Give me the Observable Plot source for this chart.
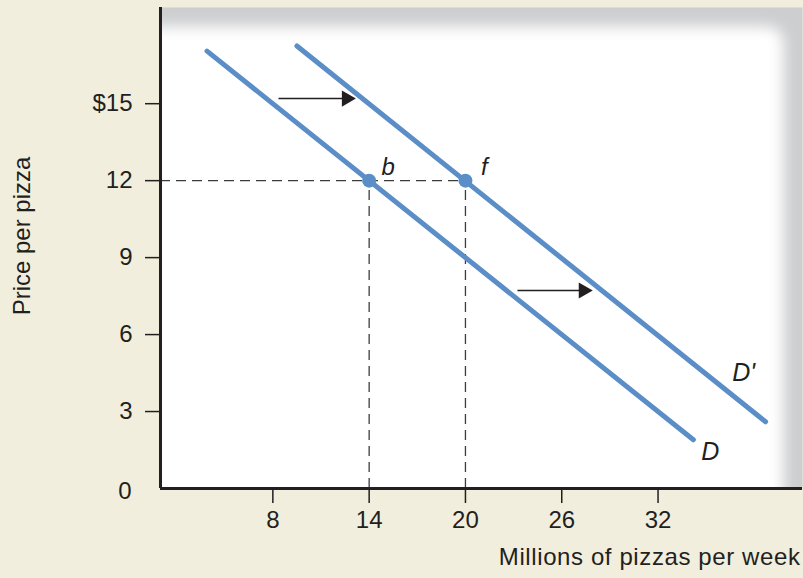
<!DOCTYPE html>
<html>
<head>
<meta charset="utf-8">
<script src="https://cdn.jsdelivr.net/npm/d3@7"></script>
<script src="https://cdn.jsdelivr.net/npm/@observablehq/plot@0.6"></script>
<style>
  html, body { margin: 0; padding: 0; background: #f1eedd; }
  #chart { width: 803px; height: 578px; }
</style>
</head>
<body>
<div id="chart"></div>
<script>
// ---- data ----
const xDomain = [1, 41];
const yDomain = [0, 18.75];
const xTicks = [8, 14, 20, 26, 32];
const yTicks = [3, 6, 9, 12, 15];
const yTickLabels = ["3", "6", "9", "12", "$15"];

// Demand curve D and shifted demand curve D'
const curveD = [{q: 3.9, p: 17.05}, {q: 34.2, p: 1.9}];
const curveD2 = [{q: 9.5, p: 17.25}, {q: 38.7, p: 2.6}];

// Points b and f
const points = [{name: "b", q: 14, p: 12}, {name: "f", q: 20, p: 12}];

// Shift arrows
const arrows = [
  {q1: 8.35, q2: 12.84, p: 15.2},
  {q1: 23.24, q2: 27.6, p: 7.72}
];

const xTitle = "Millions of pizzas per week";
const yTitle = "Price per pizza";

const blue = "#5b8ec6";
const ink = "#231f20";
const dashInk = "#3c3c3c";
const font = "'Liberation Sans', Arial, Helvetica, sans-serif";

const chart = Plot.plot({
  width: 803,
  height: 578,
  marginLeft: 160,
  marginRight: 1,
  marginTop: 7,
  marginBottom: 90,
  x: {domain: xDomain},
  y: {domain: yDomain},
  style: {background: "#f1eedd", fontFamily: font, fontSize: "24px", color: ink, overflow: "visible"},
  marks: [
    Plot.frame({fill: "#cdced0", stroke: null}),
    Plot.frame({fill: "white", stroke: null, insetTop: 19, insetRight: 19, insetLeft: -30, insetBottom: -30, rx: 16}),
    // dashed guides
    Plot.ruleY(points.filter(d => d.name === "f"), {y: "p", x1: xDomain[0], x2: "q", stroke: dashInk, strokeWidth: 1.3, strokeDasharray: "10,6"}),
    Plot.ruleX(points, {x: "q", y1: 0, y2: "p", stroke: dashInk, strokeWidth: 1.3, strokeDasharray: "10,6"}),
    // demand curves
    Plot.line(curveD, {x: "q", y: "p", stroke: blue, strokeWidth: 5}),
    Plot.line(curveD2, {x: "q", y: "p", stroke: blue, strokeWidth: 5}),
    // points
    Plot.dot(points, {x: "q", y: "p", r: 7, fill: blue}),
    Plot.text(points, {x: "q", y: "p", text: "name", dx: 19, dy: -13, fontStyle: "italic", fontSize: 24, fill: ink}),
    // curve labels
    Plot.text([curveD[1]], {x: "q", y: "p", text: () => "D", dx: 17, dy: 12, fontStyle: "italic", fontSize: 25, fill: ink}),
    Plot.text([curveD2[1]], {x: "q", y: "p", text: () => "D'", dx: -22, dy: -49, fontStyle: "italic", fontSize: 25, fill: ink}),
    // shift arrows
    Plot.link(arrows, {x1: "q1", x2: "q2", y1: "p", y2: "p", stroke: ink, strokeWidth: 1.5}),
    Plot.dot(arrows, {x: "q2", y: "p", symbol: "triangle", rotate: 90, r: 6, fill: ink, dx: -4}),
    // axes
    Plot.ruleX([xDomain[0]], {stroke: ink, strokeWidth: 3}),
    Plot.ruleY([0], {stroke: ink, strokeWidth: 3}),
    Plot.axisX(xTicks, {tickSize: 15, tickPadding: 7, strokeWidth: 1.5, fontSize: 24, label: null}),
    Plot.axisY(yTicks, {tickSize: 15, tickPadding: 13, strokeWidth: 1.5, fontSize: 24, label: null,
      tickFormat: d => yTickLabels[yTicks.indexOf(d)]}),
    Plot.axisY([0], {tickSize: 0, tickPadding: 29, fontSize: 24, label: null, dy: 3}),
    // axis titles
    Plot.text([yTitle], {text: d => d, frameAnchor: "left", textAnchor: "middle", dx: -138, dy: -12, rotate: -90, fontSize: 24, fill: ink}),
    Plot.text([xTitle], {text: d => d, frameAnchor: "bottom-right", textAnchor: "end", dx: -2, dy: 76, fontSize: 24, fill: ink})
  ]
});

document.getElementById("chart").appendChild(chart);

// soft grey edge on the top and right of the plotting area
const svg = d3.select(chart);
const defs = svg.insert("defs", ":first-child");
defs.append("filter").attr("id", "soft")
  .attr("filterUnits", "userSpaceOnUse")
  .attr("x", 0).attr("y", 0).attr("width", 803).attr("height", 578)
  .append("feGaussianBlur").attr("stdDeviation", 7);
defs.append("clipPath").attr("id", "plotclip")
  .append("rect").attr("x", 160).attr("y", 7).attr("width", 642).attr("height", 481);
const frames = svg.selectAll('[aria-label="frame"]').nodes();
const inner = frames[1];
const innerRect = inner.tagName === "rect" ? d3.select(inner) : d3.select(inner).select("rect");
d3.select(inner).attr("clip-path", "url(#plotclip)");
innerRect.attr("filter", "url(#soft)");
// slightly wider letter spacing on the x-axis title
svg.selectAll('[aria-label="text"] text').filter(function() { return this.textContent === xTitle; })
  .style("letter-spacing", "0.6px");
</script>
</body>
</html>
